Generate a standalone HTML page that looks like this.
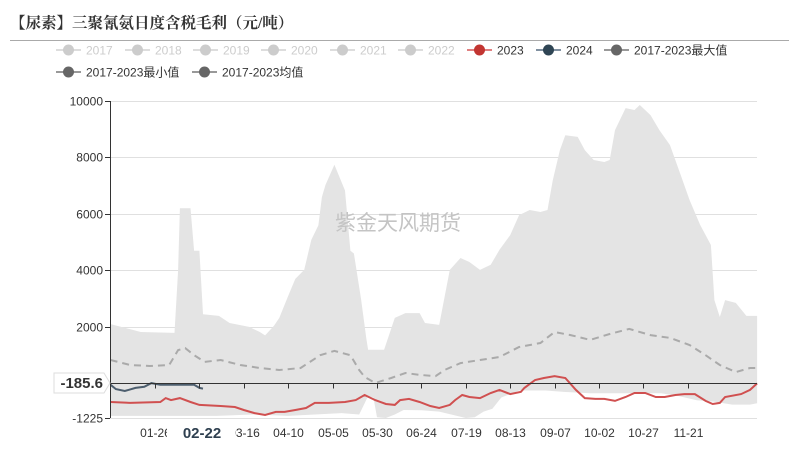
<!DOCTYPE html>
<html><head><meta charset="utf-8">
<style>
html,body{margin:0;padding:0;background:#fff;}
svg{display:block;font-family:"Liberation Sans","Noto Sans CJK SC",sans-serif;}
</style></head>
<body>
<svg id="chart" width="799" height="460" viewBox="0 0 799 460">
<text x="10" y="28" font-family="'Liberation Serif','Noto Serif CJK SC',serif" font-weight="bold" font-size="15.5" fill="#333">【尿素】三聚氰氨日度含税毛利（元/吨）</text>
<line x1="10" y1="40.5" x2="789" y2="40.5" stroke="#aaa" stroke-width="1"/>
<g id="legend"></g>
<g id="grid"></g>
<g id="plot"></g>
<text x="398" y="230" text-anchor="middle" font-size="21" fill="#c4c4c4">紫金天风期货</text>
<g id="axes"></g>
</svg>
<script>
// ---- data ----
const xTickLabels = ["01-26","02-22","03-16","04-10","05-05","05-30","06-24","07-19","08-13","09-07","10-02","10-27","11-21"];
const xTickDays = [25,50,75,100,125,150,175,200,225,250,275,300,325];
const yTickValues = [-1225,2000,4000,6000,8000,10000];
const maxDays = [0,17,36,38,39,45,47,48,50,52,61,67,78,84,87,92,95,100,104,109,113,117,119,121,126,132,135,137,141,144,145,147,154,160,166,174,177,185,191,197,202,208,214,219,225,230,236,242,246,249,253,256,263,267,272,278,281,284,290,295,298,304,309,315,321,326,332,338,340,343,346,352,358,364];
const maxVals = [2100,1820,1790,4000,6200,6200,4700,4700,4700,2450,2390,2140,2000,1820,1700,2040,2320,3100,3700,4020,5080,5600,6600,7030,7740,6830,4700,4600,3000,1600,1190,1190,1190,2320,2490,2490,2140,2070,4020,4440,4300,4020,4200,4730,5250,5960,6140,6070,6140,7200,8260,8790,8730,8260,7910,7840,7910,8970,9750,9680,9860,9500,8970,8440,7380,6490,5610,4900,2950,2350,2950,2850,2390,2390];
const minDays = [0,60,80,100,130,140,145,148,150,155,160,165,175,185,195,200,205,210,215,220,230,245,255,270,290,310,320,330,340,350,360,364];
const minVals = [-1150,-1150,-1100,-1150,-1050,-1100,-450,-500,-1200,-1225,-1100,-940,-950,-1000,-1150,-1225,-1200,-1000,-900,-500,-250,-250,-300,-350,-350,-350,-450,-600,-650,-750,-750,-700];
const meanDays = [0,11,22,33,38,42,47,53,62,73,84,95,107,118,126,135,140,143,149,158,166,174,183,188,197,208,219,230,242,250,259,270,281,292,304,315,326,335,343,352,360,364];
const meanVals = [830,650,615,650,1180,1250,1000,760,830,650,545,475,545,1000,1150,1000,475,230,15,190,370,300,260,475,720,830,935,1290,1430,1820,1710,1540,1750,1930,1710,1610,1360,1000,650,400,545,545];
const y2023Days = [0,11,28,31,34,39,45,50,62,70,75,81,87,93,98,104,110,115,123,132,138,143,149,155,160,163,168,174,180,185,191,194,198,202,208,214,219,225,231,233,239,244,250,256,262,267,273,278,284,290,295,301,307,312,318,323,329,335,339,343,346,355,360,364];
const y2023Vals = [-660,-690,-660,-520,-590,-520,-660,-760,-800,-835,-940,-1050,-1120,-1010,-1010,-940,-870,-690,-690,-660,-590,-410,-590,-730,-760,-590,-550,-660,-800,-870,-760,-590,-410,-480,-520,-340,-230,-380,-300,-160,120,190,260,190,-230,-520,-550,-550,-620,-480,-340,-340,-480,-480,-410,-380,-380,-620,-730,-690,-480,-380,-230,0];
const y2024Days = [0,3,8,14,19,23,28,39,47,50,52];
const y2024Vals = [-50,-200,-270,-160,-120,10,-50,-50,-50,-160,-185.6];

// ---- scales ----
const X0=110.6, PXD=1.776, YB=418, YT=101, VMIN=-1225, VMAX=10000;
function xs(d){return X0+d*PXD;}
function ys(v){return YB-(v-VMIN)/(VMAX-VMIN)*(YB-YT);}
const NS="http://www.w3.org/2000/svg";
function mk(tag,attrs,parent){const e=document.createElementNS(NS,tag);for(const k in attrs)e.setAttribute(k,attrs[k]);parent.appendChild(e);return e;}
function pts(days,vals){return days.map((d,i)=>xs(d).toFixed(1)+","+ys(vals[i]).toFixed(1));}

const grid=document.getElementById('grid'), plot=document.getElementById('plot'), axes=document.getElementById('axes'), legend=document.getElementById('legend');

yTickValues.forEach(v=>{
  const y=Math.round(ys(v))+0.5;
  const g=mk('line',{x1:110,x2:757,y1:y,y2:y,stroke:'#e0e0e0','stroke-width':1},grid);
  
  
  const t=mk('text',{x:103,y:y+4,'text-anchor':'end','font-size':12,fill:'#333'},axes);
  t.textContent=String(v);
  
  
});

const bandPts=pts(maxDays,maxVals).concat(pts(minDays,minVals).reverse());
const band=mk('polygon',{points:bandPts.join(' '),fill:'#e4e4e4',stroke:'none'},plot);



const mean=mk('polyline',{points:pts(meanDays,meanVals).join(' '),fill:'none',stroke:'#aaa','stroke-width':2,'stroke-dasharray':'7,5'},plot);



const zy=Math.round(ys(0))+0.5;
const za=mk('line',{x1:110,x2:757,y1:zy,y2:zy,stroke:'#333','stroke-width':1},axes);


xTickDays.forEach((d,i)=>{
  const x=Math.round(xs(d))+0.5;
  const tk=mk('line',{x1:x,x2:x,y1:zy,y2:zy+5,stroke:'#333','stroke-width':1},axes);
  
  
  const t=mk('text',{x:x,y:437,'text-anchor':'middle','font-size':12,fill:'#333'},axes);
  t.textContent=xTickLabels[i];
  
  
});
const yl=mk('line',{x1:110.5,x2:110.5,y1:101,y2:418,stroke:'#333','stroke-width':1},axes);


yTickValues.forEach(v=>{const y=Math.round(ys(v))+0.5;const tk=mk('line',{x1:105,x2:110,y1:y,y2:y,stroke:'#333'},axes);

});

const l23=mk('polyline',{points:pts(y2023Days,y2023Vals).join(' '),fill:'none',stroke:'#d05050','stroke-width':2},plot);


const l24=mk('polyline',{points:pts(y2024Days,y2024Vals).join(' '),fill:'none',stroke:'#4d5e6e','stroke-width':2},plot);



const ptrY=383;
const bx=mk('path',{d:`M54 ${ptrY-10} H104 L110 ${ptrY} L104 ${ptrY+10} H54 Z`,fill:'#fff',stroke:'#ddd'},axes);


const pt=mk('text',{x:103,y:ptrY+5,'text-anchor':'end','font-size':15,'font-weight':'bold',fill:'#333'},axes);
pt.textContent='-185.6';


const xb=mk('rect',{x:167,y:420,width:68,height:24,fill:'#fff'},axes);


const xt=mk('text',{x:202,y:438,'text-anchor':'middle','font-size':15,'font-weight':'bold',fill:'#2f4050'},axes);
xt.textContent='02-22';



const legendNames=["2017","2018","2019","2020","2021","2022","2023","2024","2017-2023最大值","2017-2023最小值","2017-2023均值"];
const legendColors=["#ccc","#ccc","#ccc","#ccc","#ccc","#ccc","#c23531","#2f4554","#666","#666","#666"];
const legendLineColors=["#ddd","#ddd","#ddd","#ddd","#ddd","#ddd","#e08080","#8090a0","#999","#999","#999"];
const legendTextColors=["#ccc","#ccc","#ccc","#ccc","#ccc","#ccc","#333","#333","#333","#333","#333"];
const legX=[56,125,193,261,330,398,467,536,604,56,192];
const legY=[50,50,50,50,50,50,50,50,50,72,72];
legendNames.forEach((n,i)=>{
  const g=mk('g',{},legend);
  
  
  mk('line',{x1:legX[i],x2:legX[i]+25,y1:legY[i],y2:legY[i],stroke:legendLineColors[i],'stroke-width':2},g);
  mk('circle',{cx:legX[i]+12.5,cy:legY[i],r:5.5,fill:legendColors[i]},g);
  const t=mk('text',{x:legX[i]+30,y:legY[i]+4.5,'font-size':12,fill:legendTextColors[i]},g);
  t.textContent=n;
});
</script>
</body></html>
